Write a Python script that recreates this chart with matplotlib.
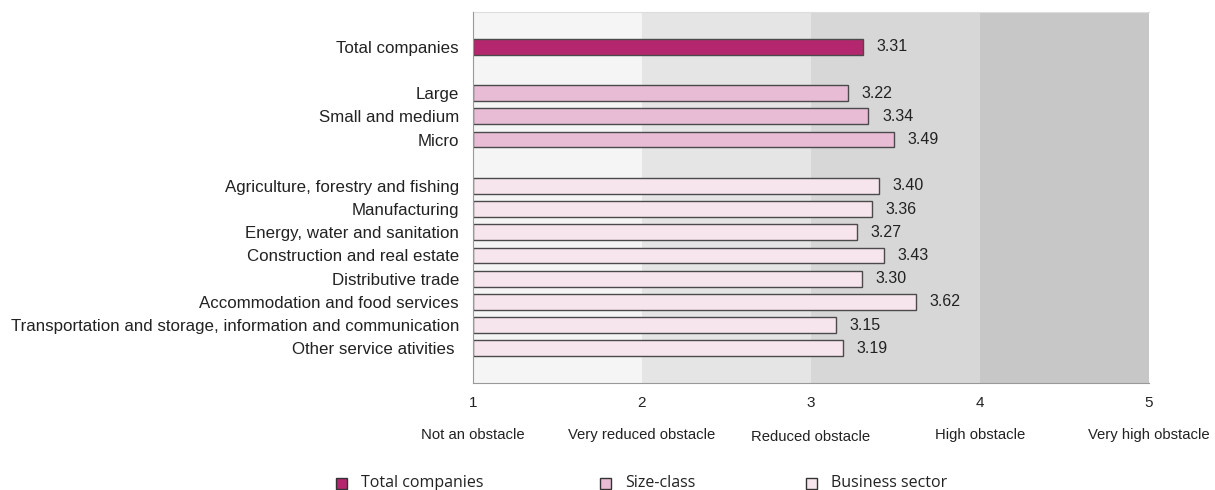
import matplotlib
matplotlib.use("Agg")
import matplotlib.pyplot as plt

plt.rcParams['font.family'] = ['Liberation Sans', 'DejaVu Sans']

categories = ["Total companies", "Large", "Small and medium", "Micro",
              "Agriculture, forestry and fishing", "Manufacturing",
              "Energy, water and sanitation", "Construction and real estate",
              "Distributive trade", "Accommodation and food services",
              "Transportation and storage, information and communication",
              "Other service ativities "]
values = [3.31, 3.22, 3.34, 3.49, 3.40, 3.36, 3.27, 3.43, 3.30, 3.62, 3.15, 3.19]
groups = ["total", "size", "size", "size"] + ["sector"] * 8
positions = [0, 2, 3, 4, 6, 7, 8, 9, 10, 11, 12, 13]
scale_ticks = [1, 2, 3, 4, 5]
scale_labels = ["Not an obstacle", "Very reduced obstacle", "Reduced obstacle",
                "High obstacle", "Very high obstacle"]
legend_labels = ["Total companies", "Size-class", "Business sector"]

colors = {"total": "#b4266e", "size": "#e8bcd5", "sector": "#f7e5ee"}
band_colors = ["#f5f5f5", "#e5e5e5", "#d7d7d7", "#c7c7c7"]

fig = plt.figure(figsize=(12.15, 4.9), dpi=100)
ax = fig.add_axes([473/1215, 1-383/490, (1149-473)/1215, (383-12)/490])

for i in range(4):
    ax.axvspan(scale_ticks[i], scale_ticks[i+1], color=band_colors[i], zorder=0, lw=0)

for p, v, g in zip(positions, values, groups):
    ax.barh(p, v - 1, left=1, height=0.68, color=colors[g], edgecolor="#4a4a4a",
            linewidth=1.0, zorder=2)
    ax.text(v + 0.08, p, f"{v:.2f}", va="center", ha="left", fontsize=11.5,
            color="#222222", zorder=3)

ax.set_xlim(1, 5)
ax.set_ylim(14.5, -1.5)
ax.set_yticks(positions)
ax.set_yticklabels(categories, fontsize=12.2, color="#222222")
ax.tick_params(axis="y", length=0, pad=10)
ax.set_xticks(scale_ticks)
ax.set_xticklabels([str(t) for t in scale_ticks], fontsize=11, color="#222222")
ax.tick_params(axis="x", length=0, pad=9)
for s in ["top", "right"]:
    ax.spines[s].set_visible(False)
ax.spines["left"].set_color("#999999")
ax.spines["bottom"].set_color("#999999")
ax.plot([1, 5], [-1.5, -1.5], color="#dddddd", lw=0.8, clip_on=False, zorder=1)

y_offsets = [0, 0, 2, 0, 0]
for t, lab, dy in zip(scale_ticks, scale_labels, y_offsets):
    ax.annotate(lab, xy=(t, 0), xycoords=("data", "axes fraction"),
                xytext=(0, -52 - dy), textcoords="offset pixels",
                ha="center", va="center", fontsize=10.7,
                family=["Liberation Sans Narrow", "Liberation Sans", "DejaVu Sans"],
                color="#222222")

leg_x = [341, 605, 811]
for h_x, lab, g in zip(leg_x, legend_labels, ["total", "size", "sector"]):
    fig.patches.append(plt.Rectangle((h_x/1215 - 5.5/1215, 1 - 489/490), 11/1215, 11/490,
                                     transform=fig.transFigure, facecolor=colors[g],
                                     edgecolor="#333333", linewidth=1.0))
    fig.text(h_x/1215 + 20/1215, 1 - 483/490, lab, ha="left", va="center",
             fontsize=11.5, family=["Open Sans", "DejaVu Sans"], color="#222222")

fig.savefig("out.png", dpi=100)
